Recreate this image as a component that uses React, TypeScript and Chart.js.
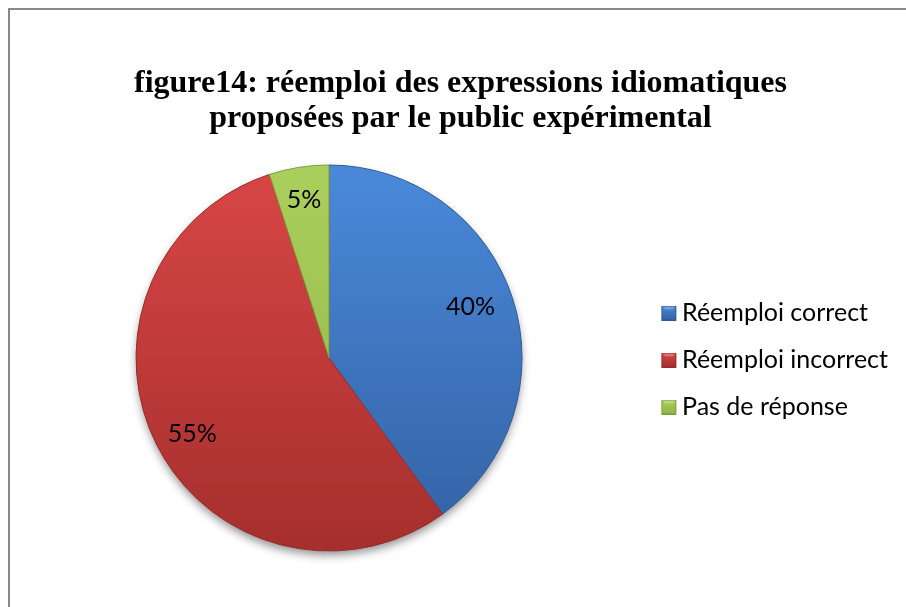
import React, { useEffect, useRef } from "react";
import { Chart, registerables } from "chart.js";

Chart.register(...registerables);

const TITLE_LINES = [
  "figure14: réemploi des expressions idiomatiques",
  "proposées par le public expérimental",
];
const CATEGORIES = ["Réemploi correct", "Réemploi incorrect", "Pas de réponse"];
const VALUES = [40, 55, 5];

const COLORS_TOP = ["#4A89DA", "#D84646", "#AACF5D"];
const COLORS_BOTTOM = ["#3361A3", "#A52F2D", "#8DB446"];
const BORDER_COLORS = ["#2E5A95", "#982B29", "#7A9C3C"];
const LABEL_RADIUS = [0.78, 0.81, 0.83];
const LABEL_ANGLE_SHIFT_DEG = [-2, -2, 0];

const PIE_RADIUS = 193;
const LABEL_FONT = "Lato";
const LABEL_SIZE = 25;

function makeMarker(top: string, bottom: string, border: string): HTMLCanvasElement {
  const c = document.createElement("canvas");
  c.width = 30;
  c.height = 15;
  const ctx = c.getContext("2d")!;
  const x0 = 13;
  const g = ctx.createLinearGradient(0, 0, 0, 15);
  g.addColorStop(0, top);
  g.addColorStop(1, bottom);
  ctx.fillStyle = g;
  ctx.fillRect(x0, 0, 15, 15);
  ctx.strokeStyle = border;
  ctx.lineWidth = 1;
  ctx.strokeRect(x0 + 0.5, 0.5, 14, 14);
  ctx.fillStyle = "rgba(255,255,255,0.25)";
  ctx.beginPath();
  ctx.moveTo(x0 + 1, 1);
  ctx.lineTo(x0 + 14, 1);
  ctx.lineTo(x0 + 11, 4);
  ctx.lineTo(x0 + 4, 4);
  ctx.closePath();
  ctx.fill();
  return c;
}

export default function App() {
  const ref = useRef<HTMLCanvasElement | null>(null);

  useEffect(() => {
    if (!ref.current) return;
    const markers = CATEGORIES.map((_, i) => makeMarker(COLORS_TOP[i], COLORS_BOTTOM[i], BORDER_COLORS[i]));

    const shadowPlugin = {
      id: "pieShadow",
      beforeDatasetsDraw(chart: any) {
        const arc = chart.getDatasetMeta(0).data[0];
        if (!arc) return;
        const { x, y, outerRadius } = arc.getProps(["x", "y", "outerRadius"], true);
        const ctx = chart.ctx;
        ctx.save();
        ctx.shadowColor = "rgba(0,0,0,0.45)";
        ctx.shadowBlur = 10;
        ctx.shadowOffsetY = 5;
        ctx.fillStyle = "#ffffff";
        ctx.beginPath();
        ctx.arc(x, y, outerRadius - 1, 0, Math.PI * 2);
        ctx.fill();
        ctx.restore();
      },
    };

    const labelPlugin = {
      id: "pctLabels",
      afterDatasetsDraw(chart: any) {
        const ctx = chart.ctx;
        const meta = chart.getDatasetMeta(0);
        const total = VALUES.reduce((a, b) => a + b, 0);
        ctx.save();
        ctx.font = `${LABEL_SIZE}px ${LABEL_FONT}`;
        ctx.fillStyle = "#000000";
        ctx.textAlign = "center";
        ctx.textBaseline = "middle";
        meta.data.forEach((el: any, i: number) => {
          const { x, y, startAngle, endAngle, outerRadius } = el.getProps(
            ["x", "y", "startAngle", "endAngle", "outerRadius"],
            true
          );
          const mid = (startAngle + endAngle) / 2 + (LABEL_ANGLE_SHIFT_DEG[i] * Math.PI) / 180;
          const r = outerRadius * LABEL_RADIUS[i];
          const pct = Math.round((VALUES[i] / total) * 100) + "%";
          ctx.fillText(pct, x + Math.cos(mid) * r, y + Math.sin(mid) * r);
        });
        ctx.restore();
      },
    };

    const chart = new Chart(ref.current, {
      type: "pie",
      data: {
        labels: CATEGORIES,
        datasets: [
          {
            data: VALUES,
            radius: PIE_RADIUS,
            borderWidth: 1,
            borderColor: BORDER_COLORS,
            backgroundColor: (c: any) => {
              const i = c.dataIndex ?? 0;
              const chart = c.chart;
              const area = chart.chartArea;
              if (!area) return COLORS_TOP[i];
              const cy = (area.top + area.bottom) / 2;
              const g = chart.ctx.createLinearGradient(0, cy - PIE_RADIUS, 0, cy + PIE_RADIUS);
              g.addColorStop(0, COLORS_TOP[i]);
              g.addColorStop(1, COLORS_BOTTOM[i]);
              return g;
            },
          } as any,
        ],
      },
      options: {
        animation: false,
        responsive: false,
        devicePixelRatio: 1,
        layout: { padding: { left: 23, right: 8, top: 0, bottom: 56 } },
        plugins: {
          title: {
            display: true,
            text: TITLE_LINES,
            color: "#000000",
            font: { family: "Liberation Serif", size: 32, weight: "bold", lineHeight: 1.09375 },
            padding: { top: 66, bottom: 29 },
          },
          legend: {
            display: true,
            position: "right",
            fullSize: false,
            title: { display: true, text: "", font: { size: 4, lineHeight: 1 }, padding: 0 },
            labels: {
              usePointStyle: true,
              pointStyleWidth: 12.5,
              boxWidth: 12.5,
              boxHeight: 15,
              padding: 22,
              textAlign: "left",
              color: "#000000",
              font: { family: LABEL_FONT, size: LABEL_SIZE },
              generateLabels: (ch: any) =>
                ch.data.labels.map((t: string, i: number) => ({
                  text: t,
                  fillStyle: COLORS_TOP[i],
                  strokeStyle: BORDER_COLORS[i],
                  lineWidth: 0,
                  hidden: false,
                  index: i,
                  pointStyle: markers[i],
                  fontColor: "#000000",
                })),
            },
          },
          tooltip: { enabled: false },
        },
      } as any,
      plugins: [shadowPlugin, labelPlugin],
    });
    return () => chart.destroy();
  }, []);

  return (
    <div style={{ position: "fixed", left: 0, top: 0, width: 906, height: 607, overflow: "hidden", background: "#fff" }}>
      <div
        style={{
          position: "absolute",
          left: 8,
          top: 8,
          width: 1000,
          height: 1000,
          border: "2px solid #888888",
        }}
      />
      <canvas ref={ref} width={906} height={607} style={{ position: "absolute", left: 0, top: 0, width: 906, height: 607 }} />
    </div>
  );
}
